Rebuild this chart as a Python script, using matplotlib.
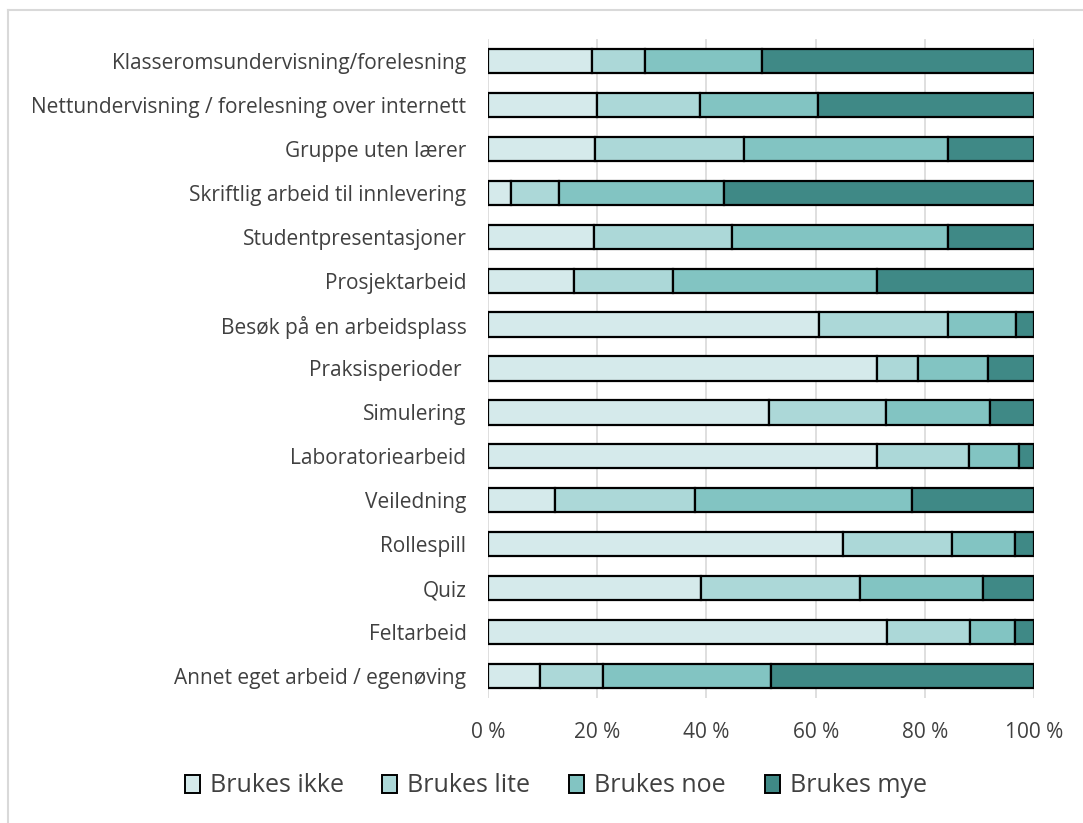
import matplotlib.pyplot as plt
from matplotlib.patches import Patch
from matplotlib.lines import Line2D
import numpy as np

categories = [
    "Klasseromsundervisning/forelesning",
    "Nettundervisning / forelesning over internett",
    "Gruppe uten lærer",
    "Skriftlig arbeid til innlevering",
    "Studentpresentasjoner",
    "Prosjektarbeid",
    "Besøk på en arbeidsplass",
    "Praksisperioder ",
    "Simulering",
    "Laboratoriearbeid",
    "Veiledning",
    "Rollespill",
    "Quiz",
    "Feltarbeid",
    "Annet eget arbeid / egenøving",
]

brukes_ikke = [19.0, 19.9, 19.6, 4.2, 19.5, 15.7, 60.7, 71.2, 51.4, 71.2, 12.3, 65.0, 39.0, 73.1, 9.5]
brukes_lite = [9.7, 18.9, 27.2, 8.8, 25.1, 18.2, 23.6, 7.6, 21.4, 16.8, 25.6, 19.9, 29.2, 15.2, 11.5]
brukes_noe = [21.4, 21.7, 37.5, 30.3, 39.7, 37.3, 12.4, 12.8, 19.1, 9.2, 39.8, 11.7, 22.4, 8.3, 30.9]
brukes_mye = [49.9, 39.5, 15.7, 56.7, 15.7, 28.8, 3.3, 8.4, 8.1, 2.8, 22.3, 3.4, 9.4, 3.4, 48.1]

series_names = ["Brukes ikke", "Brukes lite", "Brukes noe", "Brukes mye"]
colors = ["#d5eaeb", "#acd8d8", "#82c4c2", "#3f8986"]

plt.rcParams["font.family"] = ["Open Sans", "DejaVu Sans"]
text_color = "#404040"

fig = plt.figure(figsize=(10.83, 8.23), dpi=100)
ax = fig.add_axes([0.4506, 0.1519, 0.5042, 0.8007])

# outer chart border (left and top visible)
fig.add_artist(Line2D([8 / 1083, 8 / 1083], [0, 1 - 10 / 823], color="#d9d9d9", lw=1.5,
                      transform=fig.transFigure))
fig.add_artist(Line2D([8 / 1083, 1], [1 - 10 / 823, 1 - 10 / 823], color="#d9d9d9", lw=1.5,
                      transform=fig.transFigure))

y = np.arange(len(categories))
left = np.zeros(len(categories))
for name, vals, c in zip(series_names, [brukes_ikke, brukes_lite, brukes_noe, brukes_mye], colors):
    vals = np.array(vals)
    ax.barh(y, vals, left=left, height=0.55, color=c, edgecolor="black", linewidth=1.6,
            label=name, zorder=3)
    left += vals

ax.set_xlim(0, 100)
ax.set_ylim(len(categories) - 0.5, -0.5)
ax.set_xticks([0, 20, 40, 60, 80, 100])
ax.set_xticklabels([f"{v} %" for v in [0, 20, 40, 60, 80, 100]])
ax.set_yticks(y)
ax.set_yticklabels(categories)
ax.tick_params(axis="both", length=0, labelsize=15, colors=text_color)
ax.tick_params(axis="y", pad=15.5)
ax.tick_params(axis="x", pad=17.5)
ax.grid(axis="x", color="#d9d9d9", lw=1.2, zorder=0)
for s in ax.spines.values():
    s.set_visible(False)

handles = [Patch(facecolor=c, edgecolor="black", linewidth=1.4) for c in colors]
leg = fig.legend(handles, series_names, loc="center", bbox_to_anchor=(0.513, 0.045), ncol=4,
                 frameon=False, fontsize=18, handlelength=0.6, handleheight=0.75,
                 handletextpad=0.4, columnspacing=1.55)
for t in leg.get_texts():
    t.set_color(text_color)

fig.savefig("out.png", dpi=100, facecolor="white")
